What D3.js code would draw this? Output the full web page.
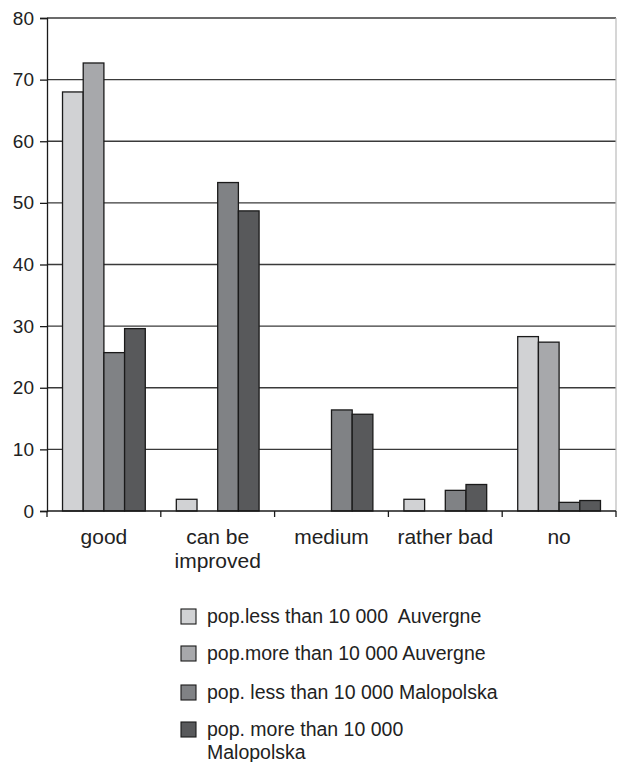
<!DOCTYPE html>
<html><head><meta charset="utf-8">
<script src="https://cdn.jsdelivr.net/npm/d3@7"></script>
<style>body{margin:0;background:#fff}svg{display:block;font-family:"Liberation Sans",Arial,sans-serif}</style>
</head><body><svg id="c" width="618" height="762"></svg>
<script>
const categories = ["good", "can be|improved", "medium", "rather bad", "no"];
const seriesNames = ["pop.less than 10 000  Auvergne", "pop.more than 10 000 Auvergne", "pop. less than 10 000 Malopolska", "pop. more than 10 000|Malopolska"];
const auvLess = [68, 1.9, 0, 1.9, 28.3];
const auvMore = [72.7, 0, 0, 0, 27.4];
const malLess = [25.7, 53.3, 16.4, 3.35, 1.4];
const malMore = [29.6, 48.7, 15.7, 4.3, 1.7];
const yTicks = [0, 10, 20, 30, 40, 50, 60, 70, 80];
const colors = ["#d1d2d4", "#a7a8ab", "#808285", "#58595b"];

const series = [auvLess, auvMore, malLess, malMore];
const svg = d3.select("#c");
const L = 47, R = 616, T = 18, B = 511;
const y = d3.scaleLinear().domain([0, 80]).range([B, T]);
const x0 = d3.scaleBand().domain(categories).range([L, R]).padding(0);
const x1 = d3.scaleBand().domain(d3.range(4)).range([0, x0.bandwidth()]).paddingInner(0).paddingOuter(0.75);

// gridlines
svg.append("g").selectAll("line").data(yTicks.filter(d => d > 0)).join("line")
  .attr("x1", L).attr("x2", R).attr("y1", d => y(d)).attr("y2", d => y(d))
  .attr("stroke", "#3a3a3a").attr("stroke-width", 1.3);
// right border
svg.append("line").attr("x1", R).attr("x2", R).attr("y1", T).attr("y2", B).attr("stroke", "#bbb").attr("stroke-width", 1.2);

// bars
const g = svg.append("g");
series.forEach((s, i) => {
  g.append("g").selectAll("rect").data(s.map((v, j) => ({ v, c: categories[j] })).filter(d => d.v > 0)).join("rect")
    .attr("x", d => x0(d.c) + x1(i)).attr("width", x1.bandwidth())
    .attr("y", d => y(d.v)).attr("height", d => B - y(d.v))
    .attr("fill", colors[i]).attr("stroke", "#1a1a1a").attr("stroke-width", 1.3);
});

// y axis
const ya = svg.append("g").attr("transform", `translate(${L},0)`)
  .call(d3.axisLeft(y).tickValues(yTicks).tickSize(7).tickPadding(6));
ya.select(".domain").attr("stroke", "#1a1a1a").attr("stroke-width", 1.3);
ya.selectAll(".tick line").attr("stroke", "#1a1a1a").attr("stroke-width", 1.3);
ya.selectAll(".tick text").attr("font-size", 19).attr("fill", "#222").attr("font-family", "Liberation Sans, Arial, sans-serif");

// x axis
const xa = svg.append("g").attr("transform", `translate(0,${B})`);
xa.append("line").attr("x1", L).attr("x2", R).attr("y1", 0).attr("y2", 0).attr("stroke", "#1a1a1a").attr("stroke-width", 1.3);
const bounds = categories.map(c => x0(c)).concat([R]);
xa.selectAll("line.tk").data(bounds).join("line").attr("class", "tk")
  .attr("x1", d => d).attr("x2", d => d).attr("y1", 0).attr("y2", 6)
  .attr("stroke", "#1a1a1a").attr("stroke-width", 1.3);
categories.forEach(c => {
  const t = xa.append("text").attr("text-anchor", "middle").attr("font-size", 21).attr("fill", "#222")
    .attr("x", x0(c) + x0.bandwidth() / 2).attr("y", 33);
  c.split("|").forEach((ln, k) => t.append("tspan").attr("x", x0(c) + x0.bandwidth() / 2).attr("dy", k ? 24 : 0).text(ln));
});

// legend
const lg = svg.append("g");
const ly = [616, 653, 692, 729];
seriesNames.forEach((n, i) => {
  lg.append("rect").attr("x", 181).attr("y", ly[i] - 7).attr("width", 15).attr("height", 15)
    .attr("fill", colors[i]).attr("stroke", "#1a1a1a").attr("stroke-width", 1.1);
  const t = lg.append("text").attr("x", 207).attr("y", ly[i] + 7).attr("font-size", 19.5).attr("fill", "#222").attr("xml:space", "preserve");
  n.split("|").forEach((ln, k) => t.append("tspan").attr("x", 207).attr("dy", k ? 23 : 0).text(ln));
});
</script></body></html>
